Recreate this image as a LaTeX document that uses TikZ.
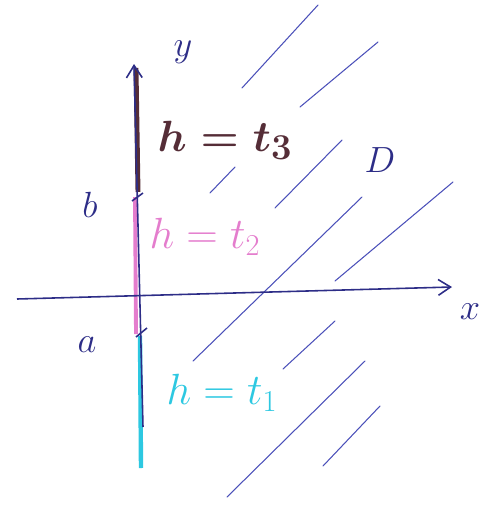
\documentclass[tikz,border=0pt]{standalone}
\usepackage{amsmath}
\usepackage{tikz}
\usetikzlibrary{arrows.meta}
\usepackage{xcolor}
\definecolor{inkblue}{RGB}{45, 45, 135}
\definecolor{hatchblue}{RGB}{75, 80, 185}
\definecolor{inkbrown}{RGB}{85, 45, 55}
\definecolor{inkpink}{RGB}{228, 125, 205}
\definecolor{inkcyan}{RGB}{45, 200, 225}

\begin{document}
\begin{tikzpicture}[x=0.02cm, y=-0.02cm, >={Straight Barb[length=7pt, width=9pt]},
    letter/.style={inkblue, font=\fontsize{20}{24}\selectfont},
    hatch/.style={hatchblue, line width=0.6pt, line cap=round}]
  \useasboundingbox (0,0) rectangle (491,508);

  % hatching of the domain D
  \foreach \xa/\ya/\xb/\yb in {242/88/318/5, 300/107/378/42, 210/193/235/167,
                               275/208/342/140, 193/361/362/197, 335/281/453/182,
                               283/369/335/321, 227/497/365/361, 323/466/380/406} {
    \draw[hatch] (\xa,\ya) -- (\xb,\yb);
  }

  % pieces of the boundary
  \draw[inkcyan, line width=2.5pt] (140,336) -- (141,468);
  \draw[inkpink, line width=2.2pt] (135,197) -- (136,334);
  \draw[inkbrown, line width=2.8pt] (136,68) -- (138,192);

  % axes
  \coordinate (ybot) at (143,427);
  \coordinate (ytop) at (134,64);
  \coordinate (xl) at (17,299);
  \coordinate (xr) at (452,287);
  \draw[inkblue, line width=0.9pt, ->] (ybot) -- (ytop);
  \draw[inkblue, line width=0.9pt, ->] (xl) -- (xr);

  % ticks at a and b
  \draw[inkblue, line width=0.9pt] (132,201) -- (143,193);
  \draw[inkblue, line width=0.9pt] (136,337) -- (147,328);

  % labels
  \node[letter] (ylab) at (183,52) {$y$};
  \node[letter] (xlab) at (470,312) {$x$};
  \node[letter] (blab) at (90,205) {$b$};
  \node[letter] (alab) at (87,345) {$a$};
  \node[letter] (dlab) at (380,160) {$D$};

  \node[inkbrown, font=\fontsize{28}{32}\selectfont\boldmath] (t3) at (225,140) {$h=t_3$};
  \node[inkpink, font=\fontsize{23}{26}\selectfont] (t2) at (205,237) {$h=t_2$};
  \node[inkcyan, font=\fontsize{24}{28}\selectfont] (t1) at (222,393) {$h=t_1$};
\end{tikzpicture}
\end{document}
